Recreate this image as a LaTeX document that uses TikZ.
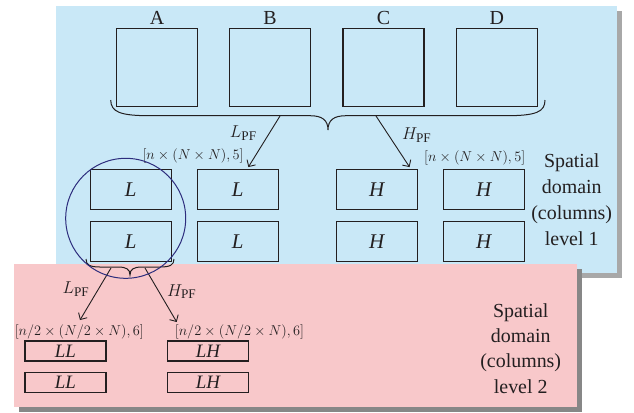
\documentclass[tikz,border=0pt]{standalone}
\usepackage{fontspec}
\setmainfont{Liberation Serif}
\usetikzlibrary{arrows.meta}
\definecolor{bluebg}{RGB}{201,232,247}
\definecolor{pinkbg}{RGB}{248,200,202}
\definecolor{blueshadow}{RGB}{168,168,168}
\definecolor{pinkshadow}{RGB}{135,135,135}
\definecolor{navy}{RGB}{45,45,125}
\definecolor{ink}{RGB}{35,31,32}
\begin{document}
\begin{tikzpicture}[x=1bp,y=-1bp,
  bx/.style={draw=ink, line width=1.1bp, inner sep=0pt, minimum width=81bp, text=ink,
             font=\fontsize{21}{21}\selectfont\itshape},
  sq/.style={bx, minimum height=78bp},
  rb/.style={bx, minimum height=40bp},
  sb/.style={bx, minimum height=20bp, font=\fontsize{19}{19}\selectfont\itshape},
  dim/.style={font=\fontsize{13.8}{15}\selectfont, text=ink, inner sep=0pt},
  lab/.style={font=\fontsize{20}{22}\selectfont, text=ink, inner sep=0pt},
  pf/.style={font=\fontsize{19}{22}\selectfont, text=ink, inner sep=0pt},
  side/.style={text=ink, align=center, inner sep=0pt},
  arr/.style={-{Straight Barb[length=5bp,width=10bp]}, line width=0.9bp, draw=ink},
  bracepath/.style={draw=ink, line width=1bp},
  ring/.style={circle, draw=navy, line width=1bp, minimum size=120bp, inner sep=0pt},
]
\useasboundingbox (0,0) rectangle (634,412);
% level 1 panel
\fill[blueshadow] (61,11) rectangle (622,278);
\fill[bluebg] (56,6) rectangle (617,273);

% top squares
\node[sq] (A) at (157,67.5) {};
\node[sq] (B) at (270,67.5) {};
\node[sq] (C) at (383.5,67.5) {};
\node[sq] (D) at (496.7,67.5) {};
\node[lab] (tA) at (157,18) {A};
\node[lab] (tB) at (270,18) {B};
\node[lab] (tC) at (383.5,18) {C};
\node[lab] (tD) at (496.7,18) {D};

% big brace
\draw[bracepath] (110.7,100) .. controls (111,112) and (120,115.7) .. (150,115.7)
  -- (310,115.7) .. controls (322,115.7) and (328,120) .. (328,130)
  .. controls (328,120) and (334,115.7) .. (346,115.7)
  -- (506,115.7) .. controls (536,115.7) and (545,112) .. (545,100);
\coordinate (bigL) at (280,116);
\coordinate (bigH) at (376,116);

% level 1 boxes
\node[rb] (L11) at (130.8,189.3) {L};
\node[rb] (L21) at (130.8,241.7) {L};
\node[rb] (L12) at (237.8,189.3) {L};
\node[rb] (L22) at (237.8,241.7) {L};
\node[rb] (H11) at (376.7,189.3) {H};
\node[rb] (H21) at (376.7,241.7) {H};
\node[rb] (H12) at (483.7,189.3) {H};
\node[rb] (H22) at (483.7,241.7) {H};

\draw[arr, shorten >=2bp] (bigL) -- ([xshift=9.5bp]L12.north);
\draw[arr, shorten >=2bp] (bigH) -- ([xshift=34bp]H11.north);
\node[pf] (lpf1) at (243.3,133.3) {$L_{\mathrm{PF}}$};
\node[pf] (hpf1) at (416.7,135) {$H_{\mathrm{PF}}$};
\node[dim] (d1L) at (193,156) {$[n\times(N\times N),5]$};
\node[dim] (d1R) at (474.7,158) {$[n\times(N\times N),5]$};
\node[side, font=\fontsize{20}{26}\selectfont] (s1) at (571.7,199.5) {Spatial\\domain\\(columns)\\level 1};

% level 2 panel
\fill[pinkshadow] (19,269) rectangle (582,412);
\fill[pinkbg] (14,264) rectangle (577,407);

\node[sb] (LL1) at (65.5,351) {LL};
\node[sb] (LL2) at (65.5,382.3) {LL};
\node[sb] (LH1) at (208,351) {LH};
\node[sb] (LH2) at (208,382.3) {LH};

\node[dim] (d2L) at (79.3,331.7) {$[n/2\times(N/2\times N),6]$};
\node[dim] (d2R) at (239.5,331.7) {$[n/2\times(N/2\times N),6]$};

% small brace
\draw[bracepath] (86,259) .. controls (86,265) and (90,267) .. (100,267)
  -- (118,267) .. controls (126,267) and (130,269) .. (130,275)
  .. controls (130,269) and (134,267) .. (142,267)
  -- (160,267) .. controls (170,267) and (174,265) .. (174,259);
\coordinate (smL) at (111,268);
\coordinate (smH) at (145,268);
\coordinate (tipL) at (80,320);
\coordinate (tipH) at (176.7,322);
\draw[arr] (smL) -- (tipL);
\draw[arr] (smH) -- (tipH);
\node[pf] (lpf2) at (76,289.3) {$L_{\mathrm{PF}}$};
\node[pf] (hpf2) at (181.7,291.7) {$H_{\mathrm{PF}}$};

\node[side, font=\fontsize{20}{25.3}\selectfont] (s2) at (520.7,348.5) {Spatial\\domain\\(columns)\\level 2};

\node[ring] (ring) at (125.7,218.3) {};
\end{tikzpicture}
\end{document}
